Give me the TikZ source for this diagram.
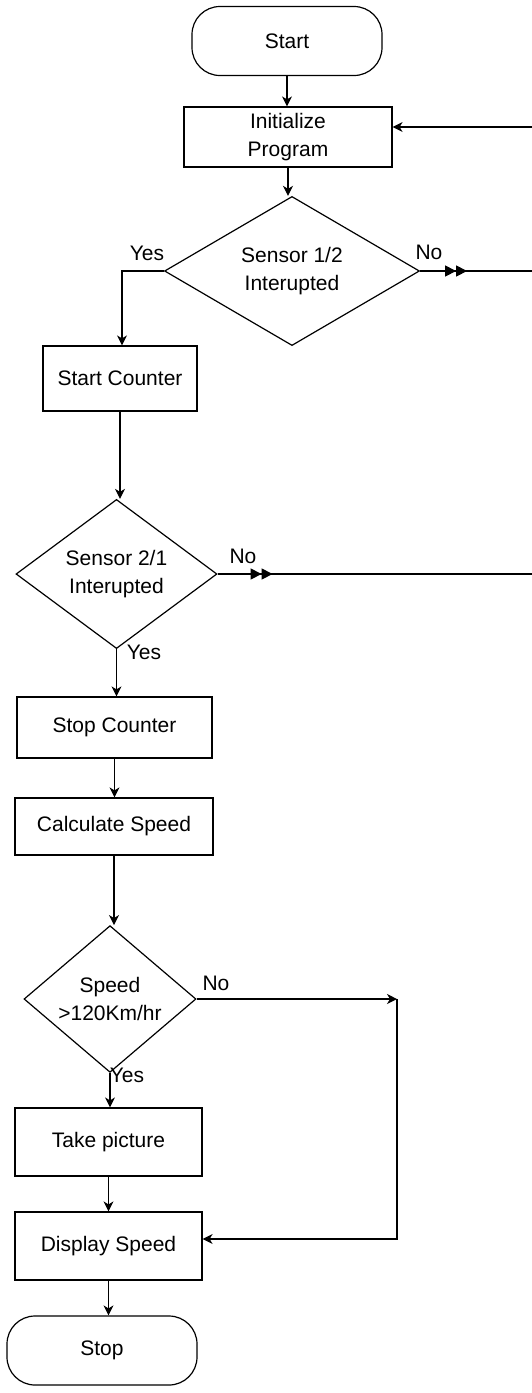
\documentclass[tikz,border=0pt]{standalone}
\usepackage{fontspec}
\setmainfont{Liberation Sans}
\usetikzlibrary{shapes.geometric,arrows.meta}
\begin{document}
\begin{tikzpicture}[x=1pt,y=-1pt,
  every node/.style={font=\fontsize{21}{28}\selectfont, align=center, inner sep=0pt},
  procbox/.style={draw, rectangle, line width=1.2pt},
  termbox/.style={draw, rectangle, rounded corners=28pt, line width=1.2pt},
  decision/.style={draw, diamond, line width=1.2pt},
  flow/.style={line width=1.2pt},
  arr/.style={flow, -{Stealth[length=10pt,width=10pt,inset=3pt]}},
  dbl/.style={flow, -{Triangle[length=11pt,width=11pt] Triangle[length=11pt,width=11pt]}},
  lbl/.style={font=\fontsize{21}{24}\selectfont}]
\useasboundingbox (0,0) rectangle (532,1393);

% process steps
\node[termbox, minimum width=190pt, minimum height=69pt] (start) at (287,41) {Start};
\node[procbox, minimum width=208pt, minimum height=60pt] (init) at (288,137) {Initialize\\Program};
\node[decision, minimum width=255pt, minimum height=136pt] (d1) at (292,271) {Sensor 1/2\\Interupted};
\node[procbox, minimum width=154pt, minimum height=65pt] (sc) at (120,378.5) {Start Counter};
\node[decision, minimum width=201pt, minimum height=134pt] (d2) at (116.5,574) {Sensor 2/1\\Interupted};
\node[procbox, minimum width=195pt, minimum height=61pt] (stc) at (114.5,727.5) {Stop Counter};
\node[procbox, minimum width=198pt, minimum height=57pt] (calc) at (114,826.5) {Calculate Speed};
\node[decision, minimum width=172pt, minimum height=137pt] (d3) at (110,999) {Speed\\{>}120Km/hr};
\node[procbox, minimum width=187pt, minimum height=68pt] (pic) at (108.5,1142) {Take picture};
\node[procbox, minimum width=187pt, minimum height=68pt] (ds) at (108.5,1246) {Display Speed};
\node[termbox, minimum width=190pt, minimum height=69pt] (stop) at (102,1350.5) {Stop};

% branch labels
\node[lbl] (y1l) at (147,253) {Yes};
\node[lbl] (n1l) at (429,252) {No};
\node[lbl] (n2l) at (243,556) {No};
\node[lbl] (y2l) at (144,652) {Yes};
\node[lbl] (n3l) at (216,983) {No};
\node[lbl] (y3l) at (127,1075) {Yes};

% routing points
\coordinate (r0) at (532,127);
\coordinate (r1) at (532,271);
\coordinate (r2) at (532,574);
\coordinate (yes1) at (122,271);
\coordinate (c1) at (397,999);
\coordinate (c2) at (397,1239);

% main flow
\draw[arr] (start.south) -- (start.south |- init.north);
\draw[arr] (init.south) -- (init.south |- d1.north);
\draw[arr] (r0) -- (init.east |- r0);
\draw[arr] (d1.west) -- (yes1) -- (yes1 |- sc.north);
\draw[flow] (d1.east) -- (r1);
\draw[dbl] (d1.east) -- ++(47,0);
\draw[arr] (sc.south) -- (sc.south |- d2.north);
\draw[flow] (d2.east) -- (r2);
\draw[dbl] (d2.east) -- ++(55,0);
\draw[arr] (d2.south) -- (d2.south |- stc.north);
\draw[arr] (stc.south) -- (stc.south |- calc.north);
\draw[arr] (calc.south) -- (calc.south |- d3.north);
\draw[arr] (d3.south) -- (d3.south |- pic.north);
\draw[arr] (d3.east) -- (c1);
\draw[arr] (c1) -- (c2) -- (ds.east |- c2);
\draw[arr] (pic.south) -- (pic.south |- ds.north);
\draw[arr] (ds.south) -- (ds.south |- stop.north);
\end{tikzpicture}
\end{document}
